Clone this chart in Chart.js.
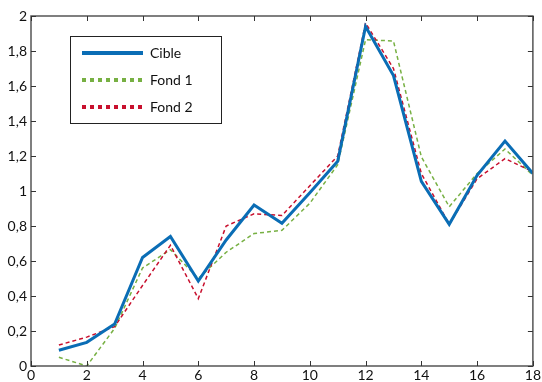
<!DOCTYPE html>
<html>
<head>
<meta charset="utf-8">
<script src="https://cdn.jsdelivr.net/npm/chart.js@4.4.1/dist/chart.umd.min.js"></script>
<style>
  html, body { margin: 0; padding: 0; background: #fff; }
  #wrap { width: 542px; height: 382px; }
</style>
</head>
<body>
<div id="wrap"><canvas id="lineChart" width="542" height="382"></canvas></div>
<script>
const xs = [1, 2, 3, 4, 5, 6, 7, 8, 9, 10, 11, 12, 13, 14, 15, 16, 17, 18];
const cible = [0.09, 0.135, 0.24, 0.62, 0.74, 0.485, 0.72, 0.92, 0.815, 0.99, 1.17, 1.94, 1.66, 1.055, 0.81, 1.09, 1.285, 1.10];
const fond1 = [0.05, 0.0, 0.215, 0.56, 0.665, 0.50, 0.65, 0.757, 0.775, 0.93, 1.15, 1.865, 1.857, 1.195, 0.91, 1.10, 1.24, 1.09];
const fond2 = [0.12, 0.165, 0.225, 0.46, 0.69, 0.385, 0.80, 0.87, 0.86, 1.03, 1.20, 1.96, 1.70, 1.10, 0.81, 1.07, 1.185, 1.11];
const xTicks = [0, 2, 4, 6, 8, 10, 12, 14, 16, 18];
const yTicks = [0, 0.2, 0.4, 0.6, 0.8, 1, 1.2, 1.4, 1.6, 1.8, 2];

const blue = '#0a6db5';
const green = '#77b043';
const red = '#c8102e';
const font = 'Lato';

function pts(ys) {
    return xs.map((x, i) => ({ x: x, y: ys[i] }));
}

// box around the axes, ticks pointing inside, legend drawn in the plot
const boxPlugin = {
    id: 'box',
    afterDraw(chart) {
        const c = chart.ctx;
        const a = chart.chartArea;
        const sx = chart.scales.x, sy = chart.scales.y;
        c.save();
        c.strokeStyle = '#555';
        c.lineWidth = 1.5;
        c.strokeRect(a.left, a.top, a.right - a.left, a.bottom - a.top);
        c.lineWidth = 1;
        c.strokeStyle = '#333';
        c.beginPath();
        xTicks.forEach(v => {
            const p = Math.round(sx.getPixelForValue(v)) + 0.5;
            c.moveTo(p, a.bottom); c.lineTo(p, a.bottom - 5);
            c.moveTo(p, a.top); c.lineTo(p, a.top + 5);
        });
        yTicks.forEach(v => {
            const p = Math.round(sy.getPixelForValue(v)) + 0.5;
            c.moveTo(a.left, p); c.lineTo(a.left + 5, p);
            c.moveTo(a.right, p); c.lineTo(a.right - 5, p);
        });
        c.stroke();

        // legend
        const lx = 70, ly = 36, lw = 151, lh = 87;
        c.fillStyle = '#fff';
        c.fillRect(lx, ly, lw, lh);
        c.strokeStyle = '#222';
        c.lineWidth = 1;
        c.strokeRect(lx + 0.5, ly + 0.5, lw, lh);
        c.font = '14px ' + font;
        c.textBaseline = 'middle';
        chart.data.datasets.forEach((ds, i) => {
            const y = 53 + i * 27;
            c.strokeStyle = ds.borderColor;
            c.lineWidth = i === 0 ? 4 : 4;
            c.setLineDash(i === 0 ? [] : [4, 4]);
            c.beginPath();
            c.moveTo(82, y); c.lineTo(143, y);
            c.stroke();
            c.setLineDash([]);
            c.fillStyle = '#111';
            c.fillText(ds.label, 150, y);
        });
        c.restore();
    }
};

const ctx = document.getElementById('lineChart').getContext('2d');
const lineChart = new Chart(ctx, {
    type: 'line',
    data: {
        datasets: [{
            label: 'Cible',
            data: pts(cible),
            borderColor: blue,
            borderWidth: 3,
            pointRadius: 0,
            tension: 0,
            order: 0
        }, {
            label: 'Fond 1',
            data: pts(fond1),
            borderColor: green,
            borderWidth: 1.5,
            borderDash: [4, 3],
            pointRadius: 0,
            tension: 0,
            order: 2
        }, {
            label: 'Fond 2',
            data: pts(fond2),
            borderColor: red,
            borderWidth: 1.5,
            borderDash: [4, 3],
            pointRadius: 0,
            tension: 0,
            order: 1
        }]
    },
    options: {
        responsive: false,
        animation: false,
        layout: { padding: { top: 16, right: 5, left: 0, bottom: 0 } },
        plugins: {
            legend: { display: false },
            tooltip: { enabled: false }
        },
        scales: {
            x: {
                type: 'linear',
                min: 0,
                max: 18,
                afterBuildTicks: s => { s.ticks = xTicks.map(v => ({ value: v })); },
                afterFit: s => { s.height = 16; },
                grid: { display: false, drawTicks: false },
                border: { display: false },
                ticks: {
                    padding: 1,
                    color: '#111',
                    font: { family: font, size: 14 },
                    maxRotation: 0
                }
            },
            y: {
                min: 0,
                max: 2,
                afterBuildTicks: s => { s.ticks = yTicks.map(v => ({ value: v })); },
                afterFit: s => { s.width = 31; },
                grid: { display: false, drawTicks: false },
                border: { display: false },
                ticks: {
                    padding: 4,
                    color: '#111',
                    font: { family: font, size: 14 },
                    callback: v => String(Math.round(v * 10) / 10).replace('.', ',')
                }
            }
        }
    },
    plugins: [boxPlugin]
});
</script>
</body>
</html>
